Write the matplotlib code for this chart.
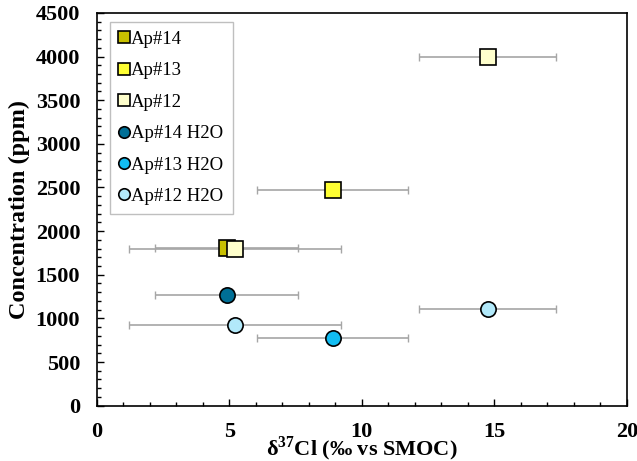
import matplotlib
matplotlib.use("Agg")
import matplotlib.pyplot as plt
from matplotlib.ticker import MultipleLocator

plt.rcParams["font.family"] = ["Liberation Serif", "DejaVu Serif"]
plt.rcParams["mathtext.fontset"] = "custom"
plt.rcParams["mathtext.rm"] = "Liberation Serif"
plt.rcParams["mathtext.bf"] = "Liberation Serif:bold"

# Data
labels = ["Ap#14", "Ap#13", "Ap#12", "Ap#14 H2O", "Ap#13 H2O", "Ap#12 H2O"]
d37cl = [[4.9], [8.9], [5.2, 14.75], [4.9], [8.9], [5.2, 14.75]]
conc = [[1810], [2470], [1800, 4000], [1265], [780], [920, 1110]]
xerr = [[2.7], [2.85], [4.0, 2.58], [2.7], [2.85], [4.0, 2.58]]

colors = ["#C8C000", "#FFFF33", "#FFFFCC", "#006F96", "#12BDF2", "#B2E9FA"]
markers = ["s", "s", "s", "o", "o", "o"]

fig, ax = plt.subplots(figsize=(6.37, 4.61), dpi=100)
fig.subplots_adjust(left=0.152, right=0.984, top=0.972, bottom=0.12)

for i, lab in enumerate(labels):
    ax.errorbar(d37cl[i], conc[i], xerr=xerr[i], fmt="none", ecolor="#A6A6A6",
                elinewidth=1.2, capsize=3, capthick=1, zorder=2)
    ax.plot(d37cl[i], conc[i], linestyle="none", marker=markers[i],
            markersize=11.5 if markers[i] == "s" else 11, markerfacecolor=colors[i],
            markeredgecolor="black", markeredgewidth=1.2, label=lab, zorder=3 + i % 3)

ax.set_xlim(0, 20)
ax.set_ylim(0, 4500)
ax.xaxis.set_major_locator(MultipleLocator(5))
ax.xaxis.set_minor_locator(MultipleLocator(1))
ax.yaxis.set_major_locator(MultipleLocator(500))
ax.yaxis.set_minor_locator(MultipleLocator(100))
ax.tick_params(which="both", direction="in", top=False, right=False)
ax.tick_params(which="major", length=5, width=1, labelsize=16)
ax.tick_params(axis="x", which="major", pad=12)
ax.tick_params(axis="y", which="major", pad=12)
ax.tick_params(which="minor", length=3, width=1)
for t in ax.get_xticklabels() + ax.get_yticklabels():
    t.set_fontweight("bold")
for s in ax.spines.values():
    s.set_linewidth(1.2)

ax.set_xlabel(r"δ$^{\mathbf{37}}$Cl (‰ vs SMOC)", fontsize=16, fontweight="bold", labelpad=-6)
ax.set_ylabel("Concentration (ppm)", fontsize=17.5, fontweight="bold", labelpad=4)

leg = ax.legend(loc="upper left", bbox_to_anchor=(0.024, 0.978), fontsize=13.5,
                markerscale=0.75, handlelength=0.55, handletextpad=0.1,
                labelspacing=0.76, borderpad=0.5, borderaxespad=0,
                fancybox=False, framealpha=1)
leg.get_frame().set_edgecolor("#BFBFBF")
leg.get_frame().set_linewidth(1)

fig.savefig("out.png", dpi=100)
